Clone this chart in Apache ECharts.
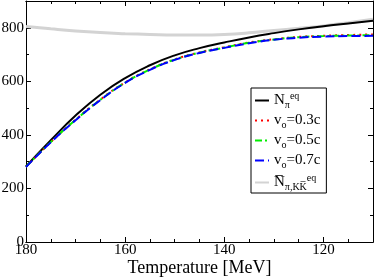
<!DOCTYPE html>
<html><head><meta charset="utf-8">
<script src="https://cdn.jsdelivr.net/npm/echarts@6/dist/echarts.min.js"></script>
<style>html,body{margin:0;padding:0;background:#fff}#c{width:374px;height:277px}</style>
</head><body><div id="c"></div>
<script>
const temps = [180,175,170,165,160,155,150,145,140,135,130,125,120,115,110];
const nPiEq = [282,380,472,550,612,660,697,724,745,764,780,794,806,816,826];
const v03   = [281,373,457,532,596,645,682,708,727,745,757,766,770,773,775];
const v05   = [281,373,456,531,595,644,681,707,726,744,756,765,769,771,772];
const v07   = [280,372,455,530,594,643,680,706,725,742,755,763,767,769,770];
const nPiKK = [805,796,788,782,778,775,773,773,775,781,790,798,807,819,832];
const xTicks = [180,160,140,120];
const xMinorTicks = [180,175,170,165,160,155,150,145,140,135,130,125,120,115,110];
const yTicks = [0,200,400,600,800];

const pair = a => temps.map((t,i)=>[t,a[i]]);
const font = '"Liberation Serif","DejaVu Serif",serif';
const chart = echarts.init(document.getElementById('c'), null, {renderer:'canvas'});
const line = {show:true,lineStyle:{color:'#000',width:1}};
function xAx(pos, major, labels){
  return {type:'value',min:110,max:180,inverse:true,position:pos,
    axisLine:line,
    axisTick:{show:true,inside:true,length:major?5:3,customValues:major?xTicks:xMinorTicks,lineStyle:{color:'#000'}},
    axisLabel:labels?{fontFamily:font,fontSize:15,color:'#000',margin:1,customValues:xTicks}:{show:false},
    splitLine:{show:false},
    name:labels?'Temperature [MeV]':'',nameLocation:'middle',nameGap:17,nameMoveOverlap:false,
    nameTextStyle:{fontFamily:font,fontSize:18,color:'#000'}};
}
function yAx(pos, labels){
  return {type:'value',min:0,max:900,interval:200,position:pos,
    axisLine:line,
    axisTick:{show:true,inside:true,length:5,lineStyle:{color:'#000'}},
    minorTick:{show:true,splitNumber:2,length:3,lineStyle:{color:'#000'}},
    axisLabel:labels?{fontFamily:font,fontSize:15,color:'#000',margin:2,
      formatter:v=>yTicks.includes(v)?String(v):''}:{show:false},
    splitLine:{show:false}};
}
const rich = {
  n:{fontFamily:font,fontSize:15,color:'#000'},
  sub:{fontFamily:font,fontSize:10,color:'#000',padding:[9,0,0,0]},
  sup:{fontFamily:font,fontSize:10,color:'#000',padding:[0,0,9,0]}
};
const names = ['Npi','v03','v05','v07','NKK'];
chart.setOption({
  animation:false,
  grid:{left:26,right:1,top:1,bottom:35,outerBoundsMode:'none',containLabel:false},
  xAxis:[xAx('bottom',true,true),xAx('bottom',false,false),xAx('top',true,false),xAx('top',false,false)],
  yAxis:[yAx('left',true),yAx('right',false)],
  legend:{
    left:251,top:88,orient:'vertical',
    data:names,
    backgroundColor:'#fff',borderColor:'#000',borderWidth:1,
    padding:[3,6,1,3],itemGap:3,itemWidth:14,itemHeight:16,
    itemStyle:{color:'transparent',borderColor:'transparent',borderWidth:0},
    textStyle:{fontFamily:font,fontSize:15,color:'#000',rich:rich},
    formatter:function(n){
      if(n==='Npi') return '{n|N}{sub|π}{sup|eq}';
      if(n==='v03') return '{n|v}{sub|o}{n|=0.3c}';
      if(n==='v05') return '{n|v}{sub|o}{n|=0.5c}';
      if(n==='v07') return '{n|v}{sub|o}{n|=0.7c}';
      return '{n|N\u0305}{sub|π,KK\u0305}{sup|eq}';
    }
  },
  series:[
    {name:'Npi',type:'line',smooth:true,showSymbol:false,symbol:'none',data:pair(nPiEq),
      lineStyle:{color:'#000',width:2},itemStyle:{color:'#000'},z:3},
    {name:'v03',type:'line',smooth:true,showSymbol:false,symbol:'none',data:pair(v03),
      lineStyle:{color:'#ff0000',width:2,type:[2,4]},itemStyle:{color:'#ff0000'},z:4},
    {name:'v05',type:'line',smooth:true,showSymbol:false,symbol:'none',data:pair(v05),
      lineStyle:{color:'#00ee00',width:2,type:[7,3,2,3]},itemStyle:{color:'#00ee00'},z:5},
    {name:'v07',type:'line',smooth:true,showSymbol:false,symbol:'none',data:pair(v07),
      lineStyle:{color:'#0000ff',width:2,type:[9,4]},itemStyle:{color:'#0000ff'},z:6},
    {name:'NKK',type:'line',smooth:true,showSymbol:false,symbol:'none',data:pair(nPiKK),
      lineStyle:{color:'#d3d3d3',width:3},itemStyle:{color:'#d3d3d3'},z:2}
  ]
});
</script></body></html>
